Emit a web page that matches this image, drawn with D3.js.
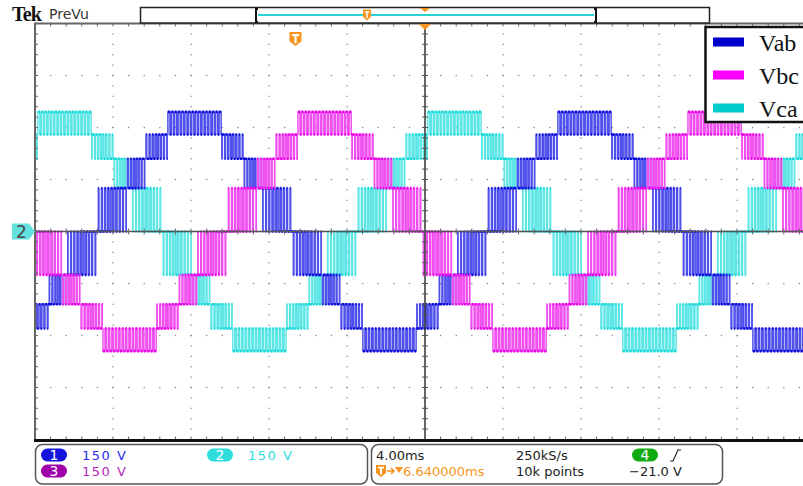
<!DOCTYPE html>
<html>
<head>
<meta charset="utf-8">
<script src="https://cdn.jsdelivr.net/npm/d3@7"></script>
<style>
  html, body { margin: 0; padding: 0; background: #fff; }
  svg { display: block; }
  .ro { font-family: "DejaVu Sans", sans-serif; font-size: 13px; }
</style>
</head>
<body>
<svg id="scope" width="803" height="486"></svg>
<script>
/* Three-phase multilevel inverter line voltages, Tek scope capture. */

/* ---------- DATA ---------- */

const SERIES = ["Vab", "Vbc", "Vca"];
const SERIES_COLOR = ["#0b0bd9", "#e600e6", "#16d8d8"];
const SERIES_EDGE = ["#5050ec", "#f050f0", "#5ee6e6"];
const LEGEND_COLOR = ["#0000cc", "#ff00ff", "#00cccc"];
// rising zero crossing of each line voltage, ms from trigger
const SERIES_PHASE_MS = [-10.18, -3.51, 3.15];

const PERIOD_MS = 20;
const CARRIER_MS = 0.17;
// voltage steps of the staircase, V
const LEVELS_V = [0, 125, 210, 280, 345];

// one period of the staircase: [t0 ms, t1 ms, inner level, outer level, duty start, duty end]
const STAIRS = [
  [0.00, 1.50, 0, 1, 0.15, 0.85],
  [1.50, 2.45, 1, 2, 0.20, 0.80],
  [2.45, 3.60, 2, 3, 0.20, 0.80],
  [3.60, 6.40, 3, 4, 0.60, 0.60],
  [6.40, 7.55, 2, 3, 0.80, 0.20],
  [7.55, 8.50, 1, 2, 0.80, 0.20],
  [8.50, 10.0, 0, 1, 0.85, 0.15],
  [10.0, 11.5, 0, -1, 0.15, 0.85],
  [11.5, 12.45, -1, -2, 0.20, 0.80],
  [12.45, 13.6, -2, -3, 0.20, 0.80],
  [13.6, 16.4, -3, -4, 0.60, 0.60],
  [16.4, 17.55, -2, -3, 0.80, 0.20],
  [17.55, 18.5, -1, -2, 0.80, 0.20],
  [18.5, 20.0, 0, -1, 0.85, 0.15]
];

// horizontal: 4 ms/div, 10 div, centre is 6.64 ms after trigger
const TIME_PER_DIV = 4;
const H_DELAY_MS = 6.64;
const VOLTS_PER_DIV = 150;

const CH_READOUT = [
  { tag: "1", text: "150 V", pill: "#1414dc", color: "#2a2af2", x: 41, row: 0 },
  { tag: "2", text: "150 V", pill: "#2fdcdc", color: "#2fdcdc", x: 207, row: 0 },
  { tag: "3", text: "150 V", pill: "#a000a8", color: "#b426bc", x: 41, row: 1 }
];

/* ---------- SCALES ---------- */

const svg = d3.select("#scope");
const PL = 35, PR = 815, PT = 23.5, PB = 439.5;

const xDiv = d3.scaleLinear().domain([0, 10]).range([PL, PR]);
const yDiv = d3.scaleLinear().domain([0, 8]).range([PT, PB]);
const x = d3.scaleLinear()
  .domain([H_DELAY_MS - 5 * TIME_PER_DIV, H_DELAY_MS + 5 * TIME_PER_DIV])
  .range([PL, PR]);
const y = d3.scaleLinear()
  .domain([-4 * VOLTS_PER_DIV, 4 * VOLTS_PER_DIV])
  .range([PB, PT]);

function lvl(i) { return Math.sign(i) * LEVELS_V[Math.abs(i)]; }

/* ---------- GRATICULE ---------- */

const grid = svg.append("g");
const dotColor = "#8a8a8a";

d3.range(1, 10).forEach(function (k) {
  if (k === 5) return;
  d3.range(1, 40).forEach(function (m) {
    grid.append("rect").attr("x", xDiv(k) - 0.6).attr("y", yDiv(m / 5) - 0.6)
      .attr("width", 1.3).attr("height", 1.3).attr("fill", dotColor);
  });
});
d3.range(1, 8).forEach(function (j) {
  if (j === 4) return;
  d3.range(1, 50).forEach(function (m) {
    grid.append("rect").attr("x", xDiv(m / 5) - 0.6).attr("y", yDiv(j) - 0.6)
      .attr("width", 1.3).attr("height", 1.3).attr("fill", dotColor);
  });
});

/* ---------- TRACES ---------- */

const clip = svg.append("defs").append("clipPath").attr("id", "plotclip");
clip.append("rect").attr("x", PL + 1).attr("y", PT + 1).attr("width", PR - PL).attr("height", PB - PT - 2);

/* Builds the PWM waveform from the staircase table. Returns the full
   path plus the horizontal dwell segments, which the scope shows brighter. */
function tracePaths(phase) {
  const pts = [];
  let flats = "";
  const tMin = x.domain()[0], tMax = x.domain()[1];
  for (let n = -2; n <= 2; n++) {
    STAIRS.forEach(function (s) {
      const t0 = phase + n * PERIOD_MS + s[0];
      const t1 = phase + n * PERIOD_MS + s[1];
      if (t1 < tMin - 1 || t0 > tMax + 1) return;
      const vin = lvl(s[2]), vout = lvl(s[3]);
      const cycles = Math.max(1, Math.round((t1 - t0) / CARRIER_MS));
      const tc = (t1 - t0) / cycles;
      for (let c = 0; c < cycles; c++) {
        const cs = t0 + c * tc;
        const f = (c + 0.5) / cycles;
        const d = s[4] + (s[5] - s[4]) * f;
        const a = cs + (1 - d) / 2 * tc, b = cs + (1 + d) / 2 * tc;
        pts.push([cs, vin], [a, vin], [a, vout], [b, vout], [b, vin], [cs + tc, vin]);
        flats += "M" + x(b) + "," + y(vin) + "H" + x(cs + tc + (1 - d) / 2 * tc);
        flats += "M" + x(a) + "," + y(vout) + "H" + x(b);
      }
    });
  }
  const full = d3.line().x(function (p) { return x(p[0]); }).y(function (p) { return y(p[1]); })(pts);
  return { full: full, flats: flats };
}

const traces = svg.append("g").attr("clip-path", "url(#plotclip)");
[2, 0, 1].forEach(function (i) {
  const p = tracePaths(SERIES_PHASE_MS[i]);
  traces.append("path")
    .attr("d", p.full)
    .attr("fill", "none")
    .attr("stroke", SERIES_EDGE[i])
    .attr("stroke-width", 1.5);
  traces.append("path")
    .attr("d", p.flats)
    .attr("fill", "none")
    .attr("stroke", SERIES_COLOR[i])
    .attr("stroke-width", 2.6);
});

/* ---------- FRAME & CENTRE LINES ---------- */

const frame = svg.append("g");
frame.append("line").attr("x1", PL).attr("x2", 803).attr("y1", yDiv(4)).attr("y2", yDiv(4))
  .attr("stroke", "#555").attr("stroke-width", 1.6);
frame.append("line").attr("x1", xDiv(5)).attr("x2", xDiv(5)).attr("y1", PT).attr("y2", PB)
  .attr("stroke", "#333").attr("stroke-width", 1.5);
d3.range(1, 50).forEach(function (m) {
  frame.append("line").attr("x1", xDiv(m / 5)).attr("x2", xDiv(m / 5))
    .attr("y1", yDiv(4) - 3).attr("y2", yDiv(4) + 3).attr("stroke", "#666").attr("stroke-width", 1);
  frame.append("line").attr("x1", xDiv(m / 5)).attr("x2", xDiv(m / 5))
    .attr("y1", PT).attr("y2", PT + 3).attr("stroke", "#666").attr("stroke-width", 1);
  frame.append("line").attr("x1", xDiv(m / 5)).attr("x2", xDiv(m / 5))
    .attr("y1", PB - 3).attr("y2", PB).attr("stroke", "#666").attr("stroke-width", 1);
});
d3.range(1, 40).forEach(function (m) {
  frame.append("line").attr("x1", xDiv(5) - 3).attr("x2", xDiv(5) + 3)
    .attr("y1", yDiv(m / 5)).attr("y2", yDiv(m / 5)).attr("stroke", "#555").attr("stroke-width", 1);
  frame.append("line").attr("x1", PL).attr("x2", PL + 3)
    .attr("y1", yDiv(m / 5)).attr("y2", yDiv(m / 5)).attr("stroke", "#666").attr("stroke-width", 1);
});
frame.append("line").attr("x1", PL).attr("x2", 803).attr("y1", PT).attr("y2", PT)
  .attr("stroke", "#666").attr("stroke-width", 2);
frame.append("line").attr("x1", PL).attr("x2", PL).attr("y1", PT - 1).attr("y2", PB + 1)
  .attr("stroke", "#666").attr("stroke-width", 2);
frame.append("line").attr("x1", PL - 1).attr("x2", 803).attr("y1", PB + 1).attr("y2", PB + 1)
  .attr("stroke", "#111").attr("stroke-width", 3);

/* ---------- TOP STRIP ---------- */

const strip = svg.append("g");
strip.append("text").attr("x", 12).attr("y", 21)
  .attr("font-family", "Liberation Serif, serif").attr("font-weight", "bold")
  .attr("font-size", 20).attr("letter-spacing", -0.8).attr("fill", "#111").text("Tek");
strip.append("text").attr("x", 49).attr("y", 19)
  .attr("font-family", "DejaVu Sans, sans-serif").attr("font-size", 14)
  .attr("fill", "#333").text("PreVu");
strip.append("rect").attr("x", 140.5).attr("y", 7.5).attr("width", 569).attr("height", 15.5)
  .attr("fill", "#fff").attr("stroke", "#222").attr("stroke-width", 1.5);
strip.append("line").attr("x1", 258).attr("x2", 594).attr("y1", 15).attr("y2", 15)
  .attr("stroke", "#27d3d3").attr("stroke-width", 2);
[256, 596].forEach(function (bx, i) {
  const dir = i === 0 ? 1 : -1;
  strip.append("path")
    .attr("d", "M" + (bx + dir * 2) + ",9H" + bx + "V22H" + (bx + dir * 2))
    .attr("fill", "none").attr("stroke", "#111").attr("stroke-width", 2);
});

function tIcon(g, cx, cy, w, h) {
  g.append("path")
    .attr("d", "M" + (cx - w / 2) + "," + (cy - h / 2) + "H" + (cx + w / 2) + "V" + (cy + h / 6) +
      "L" + cx + "," + (cy + h / 2) + "L" + (cx - w / 2) + "," + (cy + h / 6) + "Z")
    .attr("fill", "#f7941d");
  g.append("path")
    .attr("d", "M" + (cx - w * 0.3) + "," + (cy - h * 0.28) + "H" + (cx + w * 0.3) +
      "M" + cx + "," + (cy - h * 0.28) + "V" + (cy + h * 0.3))
    .attr("stroke", "#fff").attr("stroke-width", Math.max(1.4, w * 0.18)).attr("fill", "none");
}
tIcon(strip, 367, 15, 8, 11);
strip.append("path").attr("d", "M420,8H430L425,12Z").attr("fill", "#f7941d");
strip.append("path").attr("d", "M419,24H431L425,30Z").attr("fill", "#f7941d");
tIcon(strip, x(0), 39, 12, 14);

/* channel 2 ground marker */
strip.append("path")
  .attr("d", "M12," + (yDiv(4) - 8) + "H29L35," + yDiv(4) + "L29," + (yDiv(4) + 8) + "H12Z")
  .attr("fill", "#63e2df");
strip.append("text").attr("x", 16).attr("y", yDiv(4) + 6.5)
  .attr("font-family", "DejaVu Sans, sans-serif").attr("font-size", 17)
  .attr("fill", "#4a4a4a").text("2");

/* ---------- LEGEND ---------- */

const legend = svg.append("g");
legend.append("rect").attr("x", 705.5).attr("y", 27).attr("width", 120).attr("height", 95)
  .attr("fill", "#fff").attr("stroke", "#111").attr("stroke-width", 2.5);
SERIES.forEach(function (name, i) {
  const ly = 42 + i * 33;
  legend.append("rect").attr("x", 713).attr("y", ly - 4.5).attr("width", 31).attr("height", 9)
    .attr("fill", LEGEND_COLOR[i]);
  legend.append("text").attr("x", 759).attr("y", ly + 9)
    .attr("font-family", "Liberation Serif, serif").attr("font-size", 24)
    .attr("fill", "#111").text(name);
});

/* ---------- READOUTS ---------- */

const ro = svg.append("g").attr("class", "ro");
ro.append("rect").attr("x", 35.5).attr("y", 444.5).attr("width", 332).attr("height", 39.5)
  .attr("rx", 7).attr("fill", "#fff").attr("stroke", "#555").attr("stroke-width", 1.5);
ro.append("rect").attr("x", 371.5).attr("y", 444.5).attr("width", 351).attr("height", 39.5)
  .attr("rx", 7).attr("fill", "#fff").attr("stroke", "#555").attr("stroke-width", 1.5);

function pill(cx, cy, fill, label) {
  ro.append("rect").attr("x", cx - 13).attr("y", cy - 6.5).attr("width", 26).attr("height", 13)
    .attr("rx", 6.5).attr("fill", fill);
  ro.append("text").attr("x", cx).attr("y", cy + 5).attr("text-anchor", "middle")
    .attr("fill", "#fff").attr("font-size", 14).text(label);
}
CH_READOUT.forEach(function (c) {
  const cy = 455 + c.row * 16;
  pill(c.x + 13, cy, c.pill, c.tag);
  ro.append("text").attr("x", c.x + 41).attr("y", cy + 5).attr("fill", c.color)
    .attr("letter-spacing", 1.5).text(c.text);
});

ro.append("text").attr("x", 376).attr("y", 460).attr("fill", "#222").text("4.00ms");
ro.append("text").attr("x", 516).attr("y", 460).attr("fill", "#222").text("250kS/s");
ro.append("text").attr("x", 516).attr("y", 476).attr("fill", "#222").text("10k points");
ro.append("text").attr("x", 629).attr("y", 476).attr("fill", "#222").text("\u221221.0 V");
pill(645, 455, "#12aa12", "4");
ro.append("path").attr("d", "M670,461H673L678,450H681").attr("fill", "none")
  .attr("stroke", "#222").attr("stroke-width", 1.2);

tIcon(ro, 381, 471, 10, 12);
ro.append("path").attr("d", "M387,471H394M391,468L394,471L391,474").attr("fill", "none")
  .attr("stroke", "#f7941d").attr("stroke-width", 1.5);
ro.append("path").attr("d", "M395,467H403L399,473Z").attr("fill", "#f7941d");
ro.append("text").attr("x", 403).attr("y", 476).attr("fill", "#f7941d").text("6.640000ms");
</script>
</body>
</html>
